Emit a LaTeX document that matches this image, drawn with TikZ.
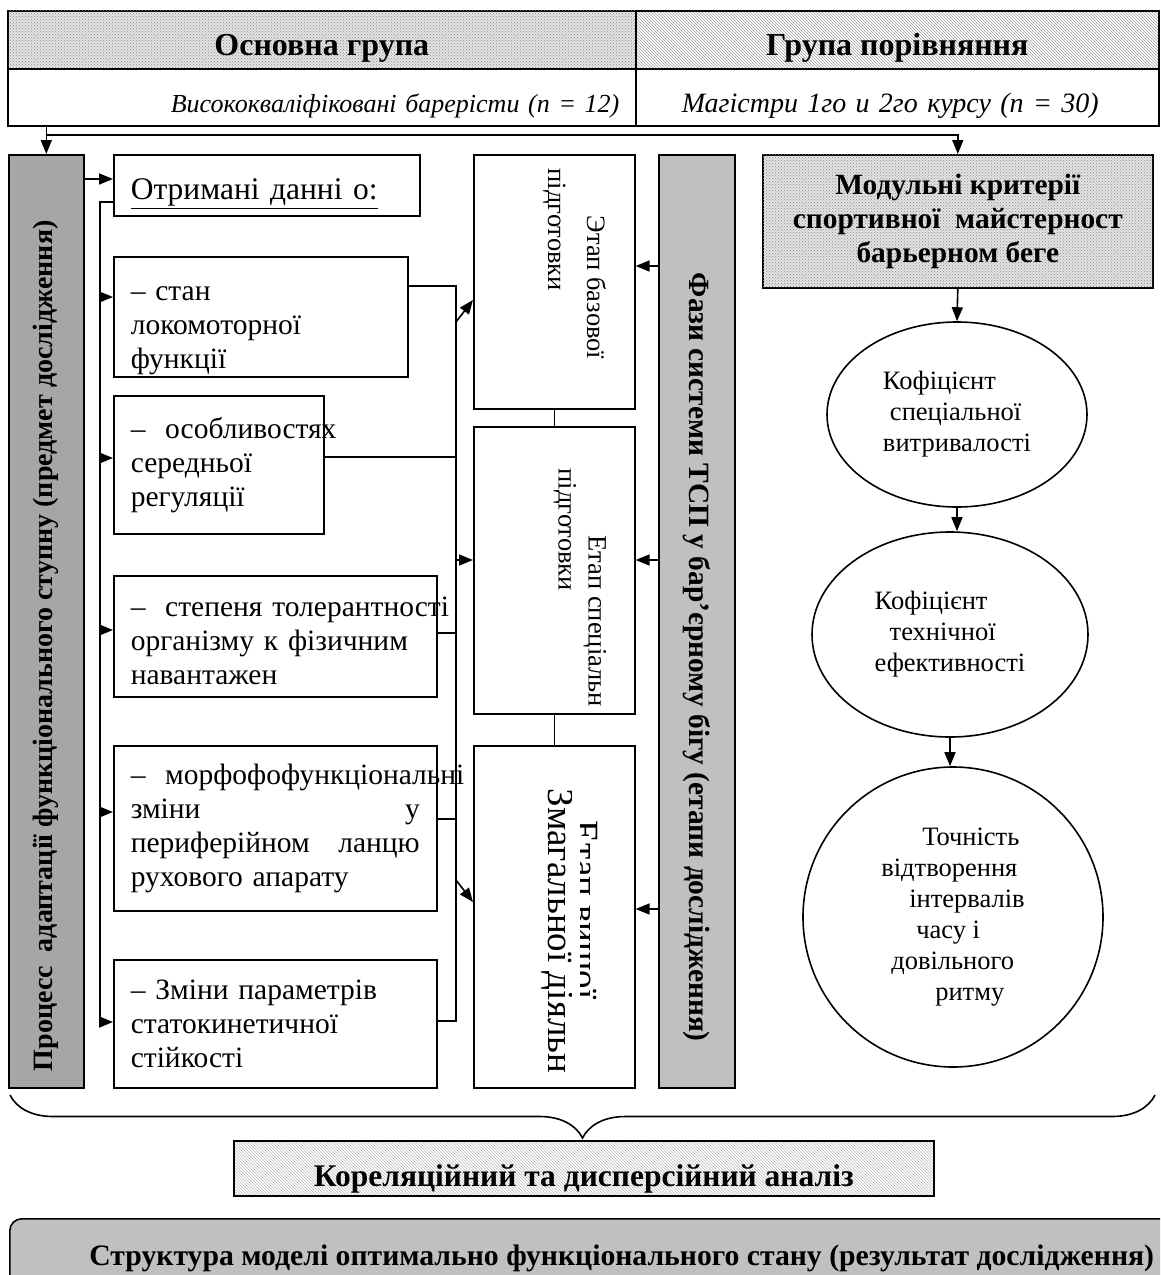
\documentclass[tikz,border=0pt]{standalone}
\usepackage{fontspec}
\setmainfont{Liberation Serif}
\usepackage{graphicx}
\usetikzlibrary{arrows.meta,patterns,shapes.geometric,decorations.pathreplacing}

\definecolor{procgray}{HTML}{A6A6A6}
\definecolor{phasegray}{HTML}{C0C0C0}
\newcommand{\spreadgap}{\hskip 0pt plus 1filll}

\tikzset{every picture/.style={line width=1.6pt}}
\tikzset{
  arr/.style={-{Triangle[length=14pt,width=11pt]}},
  box/.style={draw, rectangle, inner sep=0pt, anchor=north west},
  dotfill/.style={fill=gray!22, postaction={pattern=crosshatch dots, pattern color=gray!90}},
  hdrcell/.style={box, font=\fontsize{32}{36}\selectfont\bfseries, text height=32pt, text depth=0pt},
  grpcell/.style={box, align=left, font=\fontsize{28}{34}\selectfont\itshape, text height=31pt, text depth=0pt},
  databox/.style={box, inner xsep=17pt, align=left, font=\fontsize{29.5}{34}\selectfont},
  stagetxt/.style={rotate=-90, anchor=north west, inner sep=0pt, align=left, font=\fontsize{26.5}{30}\selectfont},
  coefnode/.style={ellipse, draw, inner sep=0pt, align=left, font=\fontsize{26.5}{31}\selectfont},
  sidebox/.style={box, font=\fontsize{28}{34}\selectfont\bfseries}
}

\begin{document}
\begin{tikzpicture}[x=1pt,y=1pt,yscale=-1,xscale=1]
    \clip (0,0) rectangle (1160,1275);
    %Shape: Rectangle (header cells)
    \node[hdrcell, dotfill, minimum width=628, minimum height=58] (hdrmain) at (7,10) {Основна група};
    \node[hdrcell, pattern=north west lines, pattern color=gray!75, minimum width=523, minimum height=58] (hdrcmp) at (635,10) {Група порівняння};
    \node[grpcell, minimum width=628, minimum height=57, inner xsep=163pt, text width=302pt, font=\fontsize{26}{34}\selectfont\itshape] (grpmain) at (7,68) {\mbox{Висококваліфіковані барерісти (n = 12)}};
    \node[grpcell, minimum width=523, minimum height=57, inner xsep=46pt, text width=431pt] (grpcmp) at (635,68) {\mbox{Магістри 1го и 2го курсу (n = 30)}};

    %Shape: Rectangle (side bars)
    \node[sidebox, fill=procgray, minimum width=75, minimum height=933] (procbox) at (8,154) {\rotatebox{90}{Процесс\ \ адаптації функціонального ступну (предмет дослідження)\hspace*{49pt}}};
    \node[sidebox, fill=phasegray, minimum width=76, minimum height=933, font=\fontsize{29.4}{34}\selectfont\bfseries] (phasebox) at (658,154) {\rotatebox{-90}{\hspace*{72pt}Фази системи ТСП у бар’єрному бігу (етапи дослідження)}};

    %Shape: Rectangle (criteria)
    \node[box, dotfill, minimum width=390, minimum height=133, align=center, font=\fontsize{29.4}{34}\selectfont\bfseries] (critbox) at (762,154) {Модульні критерії\\спортивної\ \ майстерност\\барьерном беге};

    % top connectors
    \draw[arr] (grpmain.south -| procbox.north) -- (procbox.north);
    \draw[arr] (procbox.north |- 0,135) -| (critbox.north);

    %Shape: Rectangle (obtained data)
    \node[box, inner xsep=17pt, text width=272pt, align=left, font=\fontsize{31.5}{38}\selectfont, text height=29pt, text depth=0pt, minimum width=306, minimum height=61] (datahdr) at (113,154) {\underline{Отримані данні о:}};
    \node[databox, minimum width=294, minimum height=120, text width=260pt, text height=42pt] (dat1) at (113,256) {– стан\\локомоторної\\функції};
    \node[databox, minimum width=210, minimum height=138, text width=176pt] (dat2) at (113,395) {\mbox{–\ \ особливостях}\\середньої\\регуляції};
    \node[databox, minimum width=323, minimum height=121, text width=289pt, text height=28pt] (dat3) at (113,575) {\mbox{–\ \ степеня толерантності}\\організму к фізичним\\навантажен};
    \node[databox, minimum width=323, minimum height=165, text width=289pt] (dat4) at (113,745) {\mbox{–\ \ морфофофункціональні}\\зміни\spreadgap у\\периферійном\spreadgap ланцю\\рухового апарату};
    \node[databox, minimum width=323, minimum height=128, text width=289pt] (dat5) at (113,959) {– Зміни параметрів\\статокинетичної\\стійкості};

    \draw[arr] (procbox.east |- 0,179) -- (datahdr.west |- 0,179);

    % left bus
    \coordinate (lbusTop) at (100,202);
    \coordinate (lbusBot) at (100,1022);
    \draw (datahdr.west |- lbusTop) -- (lbusTop) -- (lbusBot);
    \draw[arr] (lbusBot) -- (dat5.west |- lbusBot);
    \foreach \n/\y in {1/297,2/458,3/630,4/812}
        \draw[arr] (lbusTop |- 0,\y) -- (dat\n.west |- 0,\y);

    %Shape: Rectangle (stages)
    \node[box, minimum width=161, minimum height=254] (stage1) at (473,154) {};
    \node[box, minimum width=161, minimum height=287] (stage2) at (473,426) {};
    \node[box, minimum width=161, minimum height=342] (stage3) at (473,745) {};
    \draw (stage1.south) -- (stage2.north);
    \draw (stage2.south) -- (stage3.north);
    % Text Node
    \node[stagetxt, font=\fontsize{26.5}{39}\selectfont] (stage1txt) at (607,168) {\hspace*{47pt}Этап базової\\підготовки};
    % Text Node
    \node[stagetxt] (stage2txt) at (607,468) {\hspace*{67pt}Етап спеціальн\\підготовки};
    % Text Node (clipped lines)
    \begin{scope}
        \clip (580,745) rectangle (634,1087);
        \node[stagetxt, anchor=base west, font=\fontsize{37}{35}\selectfont] (stage3txtA) at (573,820) {Етап вищої};
    \end{scope}
    \begin{scope}
        \clip (473,745) rectangle (571,1087);
        \node[stagetxt, anchor=base west, font=\fontsize{37}{35}\selectfont] (stage3txtB) at (548,788) {Змагальної діяльн};
    \end{scope}

    % right bus
    \coordinate (rbusTop) at (456,286);
    \coordinate (rbusBot) at (456,1021);
    \draw (dat1.east |- rbusTop) -- (rbusTop) -- (rbusBot) -- (dat5.east |- rbusBot);
    \foreach \n/\y in {2/457,3/633,4/819}
        \draw (dat\n.east |- 0,\y) -- (rbusTop |- 0,\y);
    \draw[arr] (rbusTop |- 0,322) -- (stage1.west |- 0,300);
    \draw[arr] (rbusTop |- 0,560) -- (stage2.west |- 0,560);
    \draw[arr] (rbusTop |- 0,880) -- (stage3.west |- 0,902);

    \foreach \n/\y in {1/266,2/560,3/909}
        \draw[arr] (phasebox.west |- 0,\y) -- (stage\n.east |- 0,\y);

    %Shape: Ellipse
    \node[coefnode, minimum width=260, minimum height=185] (coef1) at (957,414.5) {Кофіцієнт\\\hspace*{7pt}спеціальної\\витривалості};
    \node[coefnode, minimum width=276, minimum height=205] (coef2) at (950,634.5) {Кофіцієнт\\\hspace*{15pt}технічної\\ефективності};
    \node[coefnode, minimum width=300, minimum height=300] (coef3) at (953,917) {\hspace*{41pt}Точність\\відтворення\\\hspace*{28pt}інтервалів\\\hspace*{35pt}часу і\\\hspace*{10pt}довільного\\\hspace*{54pt}ритму};
    \draw[arr] (critbox.south) -- (coef1.north);
    \draw[arr] (coef1.south) -- (coef1.south |- coef2.north);
    \draw[arr] (coef2.south) -- (coef2.south |- coef3.north);

    %Shape: Brace
    \draw[decorate, decoration={brace, mirror, amplitude=43pt}] (10,1095) -- (1155,1095);

    %Shape: Rectangle (analysis)
    \node[box, pattern=north west lines, pattern color=gray!55, minimum width=700, minimum height=55, font=\fontsize{31.5}{36}\selectfont\bfseries, text height=37pt, text depth=0pt] (corrbox) at (233,1140) {Кореляційний та дисперсійний аналіз};

    %Shape: Rounded Rectangle (result)
    \node[box, rounded corners=12pt, fill=phasegray, minimum width=1224, minimum height=80, font=\fontsize{29.7}{34}\selectfont\bfseries] (resbox) at (9,1218) {Структура моделі оптимально функціонального стану (результат дослідження)};
\end{tikzpicture}
\end{document}
